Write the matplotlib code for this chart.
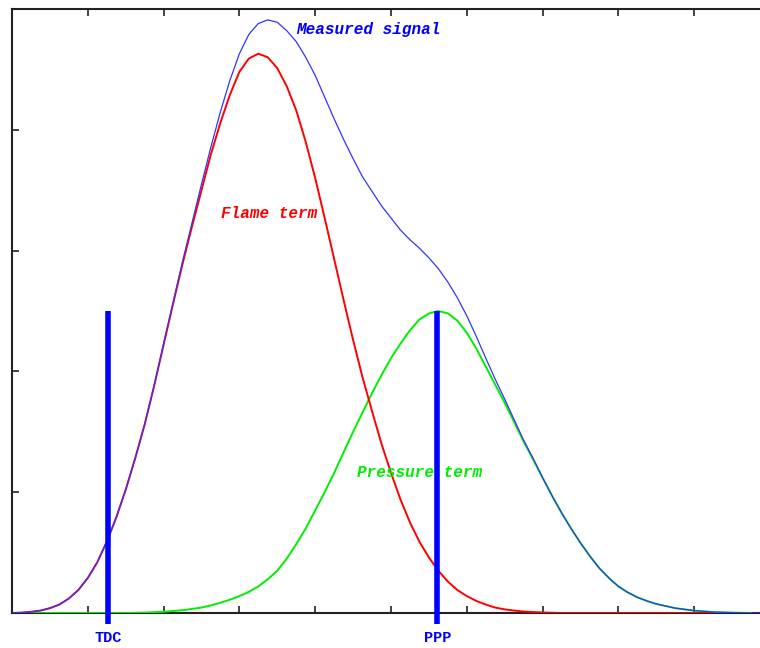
import matplotlib
matplotlib.use("Agg")
import matplotlib.pyplot as plt

# values (x and y in tick units)
flame_x = [0, 0.125, 0.25, 0.375, 0.5, 0.625, 0.75, 0.875, 1.0, 1.125, 1.25, 1.375,
           1.5, 1.625, 1.75, 1.875, 2.0, 2.125, 2.25, 2.375, 2.5, 2.625, 2.75, 2.875,
           3.0, 3.125, 3.25, 3.375, 3.5, 3.625, 3.75, 3.875, 4.0, 4.125, 4.25, 4.375,
           4.5, 4.625, 4.75, 4.875, 5.0, 5.125, 5.25, 5.375, 5.5, 5.625, 5.75, 5.875,
           6.0, 6.125, 6.25, 6.375, 6.5, 6.625, 6.75, 7.0, 7.25, 9.25]
flame_y = [0, 0.003, 0.01, 0.02, 0.04, 0.07, 0.12, 0.19, 0.29, 0.42, 0.59, 0.79,
           1.02, 1.28, 1.56, 1.88, 2.22, 2.56, 2.89, 3.20, 3.50, 3.80, 4.06, 4.29,
           4.48, 4.59, 4.63, 4.60, 4.51, 4.36, 4.16, 3.90, 3.60, 3.27, 2.93, 2.59,
           2.26, 1.95, 1.67, 1.40, 1.16, 0.94, 0.75, 0.59, 0.46, 0.35, 0.26, 0.19,
           0.14, 0.10, 0.07, 0.045, 0.03, 0.02, 0.012, 0.004, 0, 0]

pressure_x = [0, 1.5, 1.75, 2.0, 2.25, 2.5, 2.625, 2.75, 2.875, 3.0, 3.125, 3.25,
              3.375, 3.5, 3.625, 3.75, 3.875, 4.0, 4.125, 4.25, 4.375, 4.5, 4.625,
              4.75, 4.875, 5.0, 5.125, 5.25, 5.375, 5.5, 5.625, 5.75, 5.875, 6.0,
              6.125, 6.25, 6.375, 6.5, 6.625, 6.75, 6.875, 7.0, 7.125, 7.25, 7.375,
              7.5, 7.625, 7.75, 7.875, 8.0, 8.125, 8.25, 8.375, 8.5, 8.75, 9.0, 9.25,
              9.5, 9.75]
pressure_y = [0, 0, 0.003, 0.01, 0.023, 0.045, 0.063, 0.085, 0.11, 0.14, 0.175, 0.22,
              0.28, 0.35, 0.45, 0.57, 0.70, 0.85, 1.00, 1.16, 1.33, 1.50, 1.66,
              1.82, 1.97, 2.11, 2.23, 2.34, 2.43, 2.48, 2.50, 2.48, 2.42, 2.32,
              2.19, 2.04, 1.89, 1.74, 1.58, 1.42, 1.27, 1.12, 0.97, 0.83, 0.70,
              0.58, 0.47, 0.37, 0.29, 0.22, 0.17, 0.13, 0.10, 0.075, 0.04, 0.02, 0.008,
              0.003, 0]

measured_x = [0, 0.125, 0.25, 0.375, 0.5, 0.625, 0.75, 0.875, 1.0, 1.125, 1.25, 1.375,
              1.5, 1.625, 1.75, 1.875, 2.0, 2.125, 2.25, 2.375, 2.5, 2.625, 2.75, 2.875,
              3.0, 3.125, 3.25, 3.375, 3.5, 3.625, 3.75, 3.875, 4.0, 4.125, 4.25, 4.375,
              4.5, 4.625, 4.75, 4.875, 5.0, 5.125, 5.25, 5.375, 5.5, 5.625, 5.75, 5.875,
              6.0, 6.125, 6.25, 6.375, 6.5, 6.625, 6.75, 6.875, 7.0, 7.125, 7.25, 7.375,
              7.5, 7.625, 7.75, 7.875, 8.0, 8.125, 8.25, 8.375, 8.5, 8.75, 9.0, 9.25,
              9.5, 9.75, 10.0]
measured_y = [0, 0.003, 0.01, 0.02, 0.04, 0.07, 0.12, 0.19, 0.29, 0.42, 0.59, 0.79,
              1.02, 1.28, 1.56, 1.88, 2.23, 2.57, 2.91, 3.23, 3.55, 3.86, 4.15, 4.41,
              4.63, 4.79, 4.88, 4.91, 4.89, 4.82, 4.73, 4.60, 4.45, 4.27, 4.09, 3.92,
              3.76, 3.61, 3.49, 3.37, 3.27, 3.17, 3.09, 3.02, 2.94, 2.85, 2.74, 2.61,
              2.46, 2.29, 2.11, 1.935, 1.77, 1.60, 1.43, 1.28, 1.12, 0.97, 0.83, 0.70,
              0.58, 0.47, 0.37, 0.29, 0.22, 0.17, 0.13, 0.10, 0.075, 0.04, 0.02, 0.008,
              0.003, 0, 0]

markers_x = [1.27, 5.61]
markers_label = ["TDC", "PPP"]
marker_top = 2.5

fig = plt.figure(figsize=(7.6, 6.48), dpi=100)
ax = fig.add_axes([12 / 760, 35 / 648, 758 / 760, 604 / 648])

ax.plot(pressure_x, pressure_y, color="#00ee00", lw=1.4, zorder=3)
ax.plot(flame_x, flame_y, color="#ff0000", lw=1.4, zorder=4)
ax.plot(measured_x, measured_y, color="#3333ff", lw=0.9, zorder=5)

for mx, lab in zip(markers_x, markers_label):
    ax.plot([mx, mx], [-0.09, marker_top], color="#0000ff", lw=4, clip_on=False,
            solid_capstyle="butt", zorder=6)
    ax.text(mx, -0.21, lab, color="#0000ff", fontsize=11, fontweight="bold",
            family="Liberation Mono", ha="center", va="center", clip_on=False)

txt = dict(family="Liberation Mono", fontsize=11.5, fontweight="bold",
           style="italic", va="center", ha="left")
ax.text(3.75, 4.83, "Measured signal", color="#0000ff", **txt)
ax.text(2.76, 3.31, "Flame term", color="#ff0000", **txt)
ax.text(4.55, 1.16, "Pressure term", color="#00ee00", zorder=7, **txt)

ax.set_xlim(0, 10)
ax.set_ylim(0, 5)
ax.set_xticks(range(1, 10))
ax.set_yticks(range(1, 5))
ax.tick_params(direction="in", length=5, width=1.2, color="#222222",
               top=True, right=True, labelbottom=False, labelleft=False)
for s in ax.spines.values():
    s.set_linewidth(1.5)
    s.set_color("#222222")

fig.savefig("out.png", dpi=100)
